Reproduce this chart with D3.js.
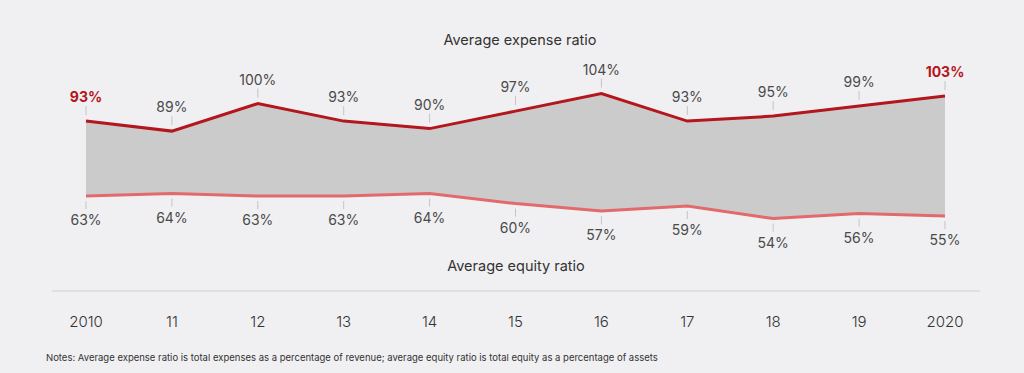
<!DOCTYPE html>
<html><head><meta charset="utf-8">
<script src="https://cdn.jsdelivr.net/npm/d3@7"></script>
<style>
html,body{margin:0;padding:0;background:#f0f0f2;}
svg{display:block;font-family:Inter, "Noto Sans", sans-serif;}
</style></head>
<body>
<svg id="c" width="1024" height="373"></svg>
<script>
const years = [2010,2011,2012,2013,2014,2015,2016,2017,2018,2019,2020];
const yearLabels = ["2010","11","12","13","14","15","16","17","18","19","2020"];
const expenseRatio = [93,89,100,93,90,97,104,93,95,99,103];
const equityRatio = [63,64,63,63,64,60,57,59,54,56,55];
const titleTop = "Average expense ratio";
const titleBottom = "Average equity ratio";
const notes = "Notes: Average expense ratio is total expenses as a percentage of revenue; average equity ratio is total equity as a percentage of assets";

const svg = d3.select("#c");
svg.append("rect").attr("width",1024).attr("height",373).attr("fill","#f0f0f2");

const x = d3.scalePoint().domain(years).range([86,945]);
const y = d3.scaleLinear().domain([50,110]).range([228.6,78.6]);

const data = years.map((yr,i)=>({yr, e:expenseRatio[i], q:equityRatio[i], lab:yearLabels[i]}));

svg.append("path").datum(data)
  .attr("d", d3.area().x(d=>x(d.yr)).y0(d=>y(d.q)).y1(d=>y(d.e)))
  .attr("fill","#cbcbcc");

const g = svg.append("g");
data.forEach((d,i)=>{
  g.append("line").attr("x1",x(d.yr)).attr("x2",x(d.yr))
    .attr("y1",y(d.e)-15).attr("y2",y(d.e)-6)
    .attr("stroke","#c4c4c6").attr("stroke-width",1);
  g.append("line").attr("x1",x(d.yr)).attr("x2",x(d.yr))
    .attr("y1",y(d.q)+5).attr("y2",y(d.q)+13)
    .attr("stroke","#c4c4c6").attr("stroke-width",1);
});

svg.append("path").datum(data)
  .attr("d", d3.line().x(d=>x(d.yr)).y(d=>y(d.q)))
  .attr("fill","none").attr("stroke","#e26a6c").attr("stroke-width",3);
svg.append("path").datum(data)
  .attr("d", d3.line().x(d=>x(d.yr)).y(d=>y(d.e)))
  .attr("fill","none").attr("stroke","#b3161c").attr("stroke-width",3);

data.forEach((d,i)=>{
  const hi = (i===0 || i===data.length-1);
  svg.append("text").attr("x",x(d.yr)).attr("y",y(d.e)-19)
    .attr("text-anchor","middle").attr("font-size",14)
    .attr("font-weight",hi?700:400)
    .attr("fill",hi?"#b3161c":"#4a4a4a")
    .text(d.e+"%");
  svg.append("text").attr("x",x(d.yr)).attr("y",y(d.q)+29)
    .attr("text-anchor","middle").attr("font-size",14)
    .attr("fill","#4a4a4a")
    .text(d.q+"%");
  svg.append("text").attr("x",x(d.yr)).attr("y",327)
    .attr("text-anchor","middle").attr("font-size",15)
    .attr("font-weight",300)
    .attr("fill","#333")
    .text(d.lab);
});

svg.append("text").attr("x",520).attr("y",45).attr("text-anchor","middle")
  .attr("font-size",14.5).attr("fill","#333").text(titleTop);
svg.append("text").attr("x",516).attr("y",271).attr("text-anchor","middle")
  .attr("font-size",14.5).attr("fill","#333").text(titleBottom);

svg.append("line").attr("x1",52).attr("x2",980).attr("y1",291).attr("y2",291)
  .attr("stroke","#cfcfd1").attr("stroke-width",1);

svg.append("text").attr("x",46).attr("y",361).attr("font-size",9.5)
  .attr("fill","#333").text(notes);
</script>
</body></html>
